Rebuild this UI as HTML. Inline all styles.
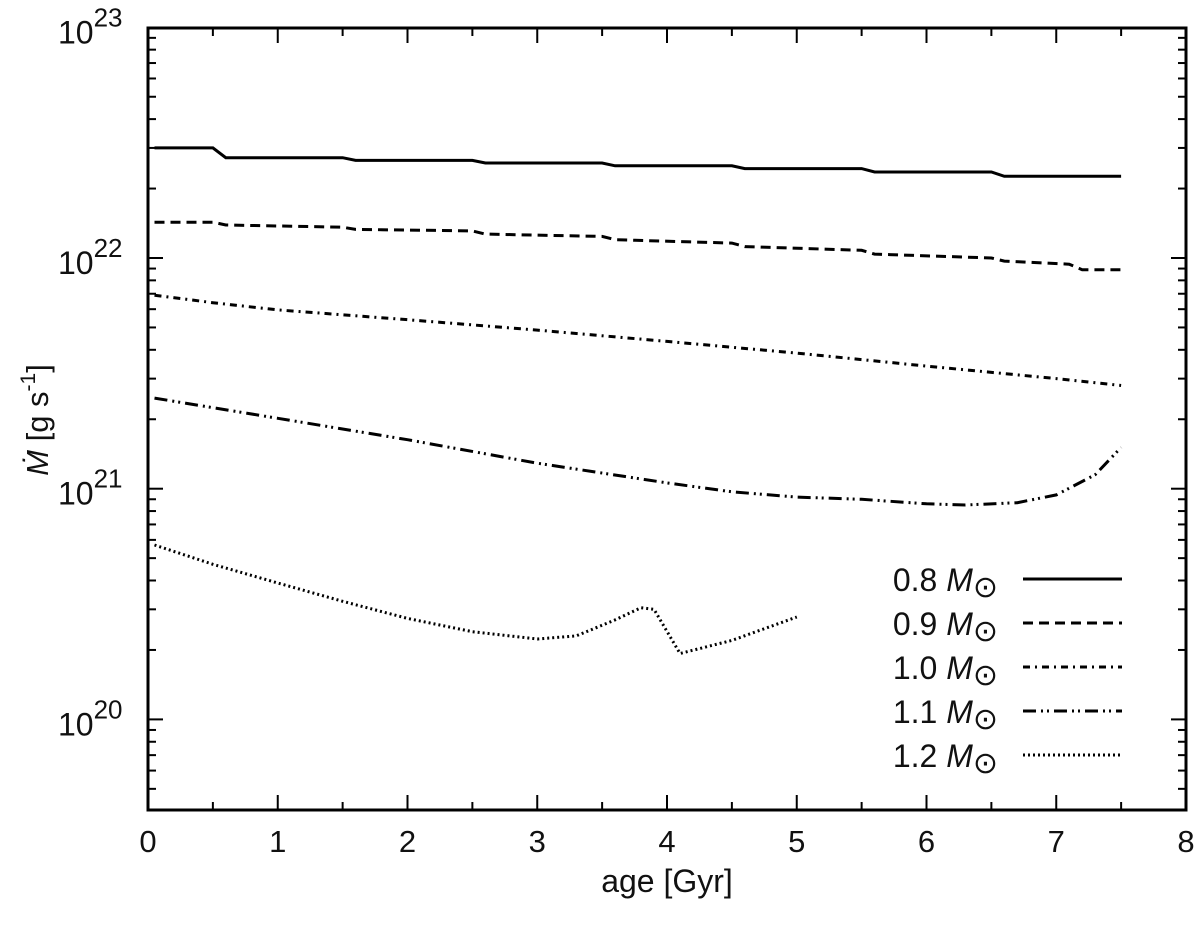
<!DOCTYPE html>
<html><head><meta charset="utf-8"><style>
body{margin:0;background:#fff}
svg text{font-family:"Liberation Sans",sans-serif;fill:#111}
</style></head><body>
<svg id="chart" width="1200" height="920" xmlns="http://www.w3.org/2000/svg">
<g id="axes"></g><g id="series"></g><g id="legend"></g>
</svg>
<script>
const xTicks=[0,1,2,3,4,5,6,7,8];
const yDecades=[20,21,22,23];
const seriesLabels=["0.8","0.9","1.0","1.1","1.2"];
const ages08=[0.05,0.5,0.6,1.5,1.6,2.5,2.6,3.5,3.6,4.5,4.6,5.5,5.6,6.5,6.6,7.5];
const vals08=[3.0e22,3.0e22,2.72e22,2.72e22,2.65e22,2.65e22,2.58e22,2.58e22,2.51e22,2.51e22,2.44e22,2.44e22,2.36e22,2.36e22,2.26e22,2.26e22];
const ages09=[0.05,0.5,0.6,1.5,1.6,2.5,2.6,3.5,3.6,4.5,4.6,5.5,5.6,6.5,6.6,7.1,7.2,7.5];
const vals09=[1.43e22,1.43e22,1.39e22,1.36e22,1.33e22,1.31e22,1.27e22,1.24e22,1.2e22,1.16e22,1.12e22,1.08e22,1.04e22,1.0e22,0.97e22,0.94e22,0.89e22,0.89e22];
const ages10=[0.05,0.5,1,2,3,4,5,6,7,7.5];
const vals10=[6.9e21,6.4e21,5.96e21,5.4e21,4.87e21,4.35e21,3.87e21,3.4e21,3.0e21,2.8e21];
const ages11=[0.05,1,2,3,4,4.5,5,5.5,6,6.3,6.7,7,7.3,7.5];
const vals11=[2.47e21,2.02e21,1.63e21,1.29e21,1.06e21,0.97e21,0.92e21,0.9e21,0.86e21,0.85e21,0.87e21,0.94e21,1.15e21,1.51e21];
const ages12=[0.05,0.5,1,1.5,2,2.5,3,3.3,3.6,3.8,3.9,4.1,4.5,5];
const vals12=[5.7e20,4.7e20,3.9e20,3.25e20,2.74e20,2.4e20,2.23e20,2.3e20,2.7e20,3.05e20,3.0e20,1.93e20,2.2e20,2.78e20];
const L=148,R=1186,T=28,B=810;
const xs=v=>L+(R-L)*v/8;
const ys=v=>258-230.7*(Math.log10(v)-22);
const NS="http://www.w3.org/2000/svg";
function mk(tag,attrs,parent){const e=document.createElementNS(NS,tag);for(const k in attrs)e.setAttribute(k,attrs[k]);parent.appendChild(e);return e;}
const ax=document.getElementById('axes');
const frame=mk('rect',{x:L,y:T,width:R-L,height:B-T,fill:'none',stroke:'#000','stroke-width':3},ax);


for(let i=0;i<=16;i++){const v=i/2,x=xs(v),len=(i%2==0)?15:8;
 mk('line',{x1:x,y1:B,x2:x,y2:B-len,stroke:'#000','stroke-width':2},ax);
 mk('line',{x1:x,y1:T,x2:x,y2:T+len,stroke:'#000','stroke-width':2},ax);}
xTicks.forEach(v=>{const t=mk('text',{x:xs(v),y:B+42,'text-anchor':'middle','font-size':31},ax);t.textContent=v;
 
 });
for(let d=19;d<=22;d++){for(let m=1;m<=9;m++){const v=m*Math.pow(10,d);const y=ys(v);if(y>B||y<T)continue;const len=m==1?15:8;
 mk('line',{x1:L,y1:y,x2:L+len,y2:y,stroke:'#000','stroke-width':2},ax);
 mk('line',{x1:R,y1:y,x2:R-len,y2:y,stroke:'#000','stroke-width':2},ax);}}
yDecades.forEach(d=>{const y=ys(Math.pow(10,d));const t=mk('text',{x:58,y:y+16,'text-anchor':'start','font-size':32},ax);
 t.innerHTML='10<tspan dy="-17" font-size="26">'+d+'</tspan>';
 
 });
const xl=mk('text',{x:667,y:892,'text-anchor':'middle','font-size':32},ax);xl.textContent='age [Gyr]';


const yl=mk('text',{x:0,y:0,'text-anchor':'middle','font-size':31,transform:'translate(48,420) rotate(-90)'},ax);
yl.innerHTML='<tspan font-style="italic">Ṁ</tspan> [g s<tspan dy="-13" font-size="21">-1</tspan><tspan dy="13">]</tspan>';


const dashes=['none','10 6','7 5 2 5','13 5 2 4 2 5','2 3'];
const data=[[ages08,vals08],[ages09,vals09],[ages10,vals10],[ages11,vals11],[ages12,vals12]];
const sg=document.getElementById('series'),lg=document.getElementById('legend');
data.forEach((s,i)=>{const d=s[0].map((a,j)=>(j?'L':'M')+xs(a).toFixed(1)+','+ys(s[1][j]).toFixed(1)).join(' ');
 const p=mk('path',{d:d,fill:'none',stroke:'#000','stroke-width':3,'stroke-dasharray':dashes[i]},sg);
 
 
 const ry=579+44*i;
 const t=mk('text',{x:998,y:ry+12,'text-anchor':'end','font-size':32},lg);
 t.innerHTML=seriesLabels[i]+' <tspan font-style="italic">M</tspan><tspan font-size="30" dy="6">⊙</tspan>';
 
 
 const ln=mk('line',{x1:1023,y1:ry,x2:1122,y2:ry,stroke:'#000','stroke-width':3,'stroke-dasharray':dashes[i]},lg);
 
 });
</script>
</body></html>
